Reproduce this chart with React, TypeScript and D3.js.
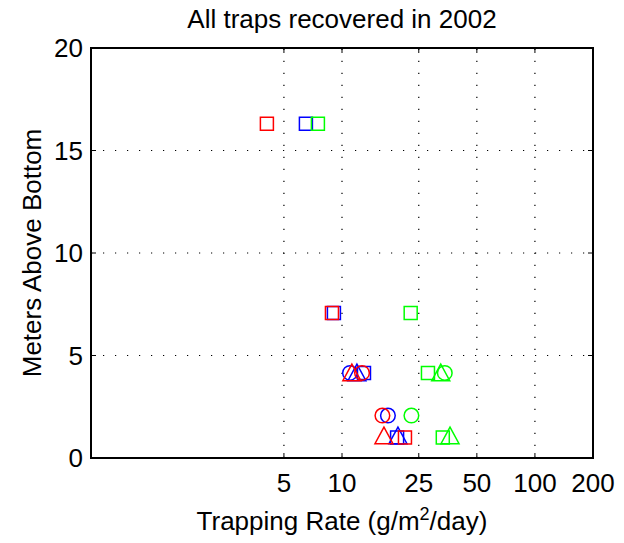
import * as d3 from "d3";

// trapping rate (g/m^2/day) and depth (meters above bottom), one pair per marker
const blueSquares = [[6.5, 16.3], [9.08, 7.07], [13.0, 4.15], [19.3, 1.0]];
const blueCircles = [[11.0, 4.15], [17.3, 2.07]];
const blueTriangles = [[11.95, 4.15], [19.5, 1.08]];
const redSquares = [[4.08, 16.3], [8.87, 7.07], [21.2, 1.0]];
const redCircles = [[12.7, 4.15], [16.2, 2.07]];
const redTriangles = [[11.25, 4.15], [16.5, 1.08]];
const greenSquares = [[7.5, 16.3], [22.7, 7.07], [27.9, 4.15], [33.3, 1.0]];
const greenCircles = [[34.1, 4.15], [22.9, 2.07]];
const greenTriangles = [[32.5, 4.15], [36.3, 1.08]];

const xTicks = [5, 10, 25, 50, 100, 200];
const yTicks = [0, 5, 10, 15, 20];

const width = 624;
const height = 543;
const margin = { top: 48, right: 31, bottom: 85, left: 91 };
const font = "'Liberation Sans', Arial, sans-serif";

const x = d3.scaleLog().domain([0.5, 200]).range([margin.left, width - margin.right]);
const y = d3.scaleLinear().domain([0, 20]).range([height - margin.bottom, margin.top]);

const shapes: Record<string, (cx: number, cy: number) => string> = {
  square: (cx, cy) => `M${cx - 6.5},${cy - 6.5}h13v13h-13Z`,
  circle: (cx, cy) => `M${cx - 7.3},${cy}a7.3,7.3 0 1,0 14.6,0a7.3,7.3 0 1,0 -14.6,0Z`,
  triangle: (cx, cy) => `M${cx},${cy - 8.8}L${cx + 9},${cy + 7.8}L${cx - 9},${cy + 7.8}Z`,
};

const groups = [
  { data: blueSquares, shape: "square", color: "#0000ff" },
  { data: blueCircles, shape: "circle", color: "#0000ff" },
  { data: blueTriangles, shape: "triangle", color: "#0000ff" },
  { data: redSquares, shape: "square", color: "#ff0000" },
  { data: redCircles, shape: "circle", color: "#ff0000" },
  { data: redTriangles, shape: "triangle", color: "#ff0000" },
  { data: greenSquares, shape: "square", color: "#00ff00" },
  { data: greenCircles, shape: "circle", color: "#00ff00" },
  { data: greenTriangles, shape: "triangle", color: "#00ff00" },
];

export default function App() {
  const [x0, x1] = x.range();
  const [y0, y1] = y.range();
  const tickLen = 5;

  return (
    <svg width={width} height={height} style={{ position: "absolute", left: 0, top: 0, background: "#fff" }} fontFamily={font}>
      <rect width={width} height={height} fill="#fff" />
      {/* dotted grid */}
      {xTicks.filter(t => t < 200).map(t => (
        <line key={"gx" + t} x1={x(t)} x2={x(t)} y1={y0} y2={y1} stroke="#000" strokeWidth={1.2} strokeDasharray="1.2,10.8" />
      ))}
      {yTicks.filter(t => t > 0 && t < 20).map(t => (
        <line key={"gy" + t} x1={x0} x2={x1} y1={y(t)} y2={y(t)} stroke="#000" strokeWidth={1.2} strokeDasharray="1.2,10.8" />
      ))}
      {/* tick marks on all four sides */}
      {xTicks.map(t => (
        <g key={"tx" + t}>
          <line x1={x(t)} x2={x(t)} y1={y0} y2={y0 - tickLen} stroke="#000" strokeWidth={1} />
          <line x1={x(t)} x2={x(t)} y1={y1} y2={y1 + tickLen} stroke="#000" strokeWidth={1} />
        </g>
      ))}
      {yTicks.map(t => (
        <g key={"ty" + t}>
          <line x1={x0} x2={x0 + tickLen} y1={y(t)} y2={y(t)} stroke="#000" strokeWidth={1} />
          <line x1={x1} x2={x1 - tickLen} y1={y(t)} y2={y(t)} stroke="#000" strokeWidth={1} />
        </g>
      ))}
      {/* markers */}
      {groups.map((g, i) => (
        <g key={"m" + i} fill="none" stroke={g.color} strokeWidth={1.5}>
          {g.data.map((d, j) => (
            <path key={j} d={shapes[g.shape](x(d[0]), y(d[1]))} />
          ))}
        </g>
      ))}
      {/* box */}
      <rect x={x0} y={y1} width={x1 - x0} height={y0 - y1} fill="none" stroke="#000" strokeWidth={2} />
      {/* tick labels */}
      {xTicks.map(t => (
        <text key={"lx" + t} x={x(t)} y={y0 + 34} textAnchor="middle" fontSize={26}>{t}</text>
      ))}
      {yTicks.map(t => (
        <text key={"ly" + t} x={x0 - 8} y={y(t) + 9} textAnchor="end" fontSize={26}>{t}</text>
      ))}
      {/* title and axis labels */}
      <text x={(x0 + x1) / 2} y={28} textAnchor="middle" fontSize={26}>All traps recovered in 2002</text>
      <text x={(x0 + x1) / 2} y={530} textAnchor="middle" fontSize={26}>
        Trapping Rate (g/m<tspan fontSize={18} dy={-10}>2</tspan><tspan dy={10}>/day)</tspan>
      </text>
      <text transform={`translate(41,${(y0 + y1) / 2}) rotate(-90)`} textAnchor="middle" fontSize={26}>Meters Above Bottom</text>
    </svg>
  );
}
